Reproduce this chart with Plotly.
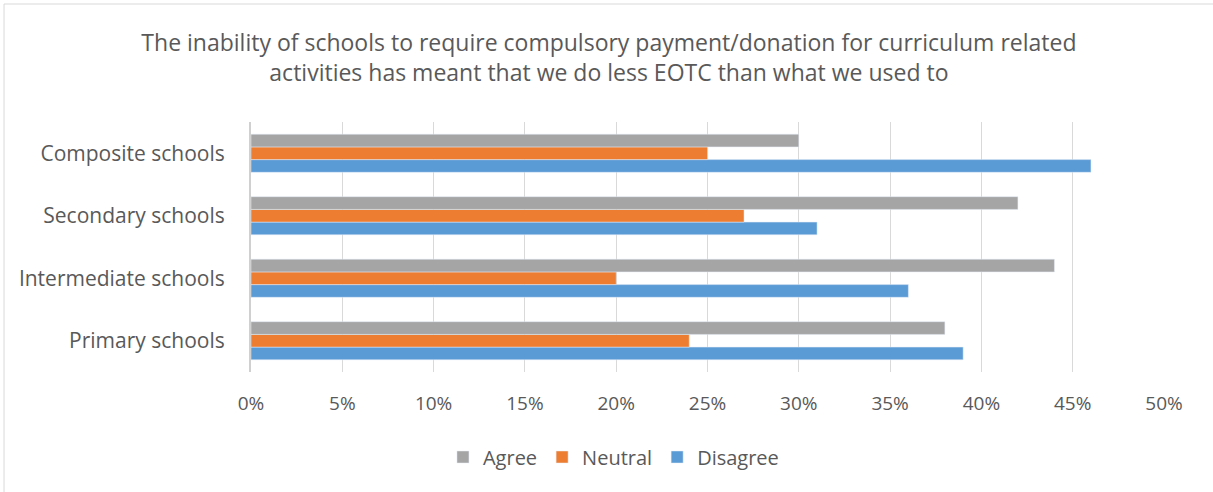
import plotly.graph_objects as go

categories = ["Primary schools", "Intermediate schools", "Secondary schools", "Composite schools"]
disagree = [39, 36, 31, 46]
neutral = [24, 20, 27, 25]
agree = [38, 44, 42, 30]
tick_vals = [0, 5, 10, 15, 20, 25, 30, 35, 40, 45, 50]
tick_text = [f"{v}%" for v in tick_vals]

title = ("The inability of schools to require compulsory payment/donation for curriculum related<br>"
         "activities has meant that we do less EOTC than what we used to")

fig = go.Figure()
fig.add_trace(go.Bar(y=categories, x=disagree, name="Disagree", orientation="h", marker_color="#5B9BD5"))
fig.add_trace(go.Bar(y=categories, x=neutral, name="Neutral", orientation="h", marker_color="#ED7D31"))
fig.add_trace(go.Bar(y=categories, x=agree, name="Agree", orientation="h", marker_color="#A5A5A5"))

fig.update_layout(
    width=1213, height=492,
    margin=dict(l=251, r=49, t=122, b=120),
    paper_bgcolor="white", plot_bgcolor="white",
    font=dict(family="Open Sans, Calibri, sans-serif", color="#595959", size=18),
    title=dict(text=title, x=0.502, xanchor="center", y=0.897, yanchor="top",
               font=dict(size=23, color="#595959")),
    barmode="group", bargap=0.39, bargroupgap=0,
    showlegend=True,
    legend=dict(orientation="h", traceorder="reversed", x=0.397, xanchor="center",
                y=-0.34, yanchor="middle", font=dict(size=20)),
    xaxis=dict(range=[0, 50], tickvals=tick_vals, ticktext=tick_text,
               tickfont=dict(size=19),
               showgrid=True, gridcolor="#D9D9D9", gridwidth=1,
               zeroline=False, showline=False, ticks="", ticklabelstandoff=18),
    yaxis=dict(showgrid=False, zeroline=False, showline=True, linecolor="#D0D0D0",
               linewidth=2, ticks="", ticklabelstandoff=20, tickfont=dict(size=21)),
)

# outer chart frame (right and bottom edges fall outside the picture)
fig.add_shape(type="rect", xref="paper", yref="paper",
              x0=-0.2705, x1=1.061, y0=-0.512, y1=1.472,
              line=dict(color="#D9D9D9", width=1), fillcolor="rgba(0,0,0,0)", layer="below")

fig.write_html("out.html", config={"displayModeBar": False},
               post_script="document.body.style.margin='0';")
